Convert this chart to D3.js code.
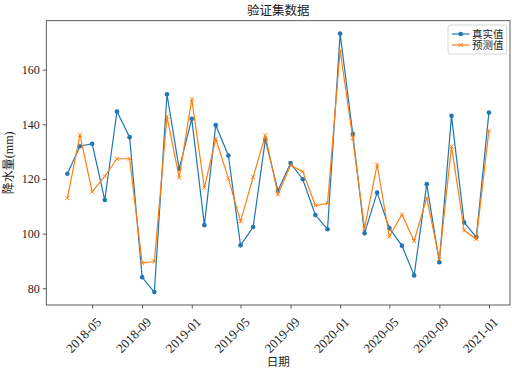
<!DOCTYPE html>
<meta charset="utf-8">
<body style="margin:0;background:white;">
<svg width="512" height="370"></svg>
<script src="https://cdn.jsdelivr.net/npm/d3@7"></script>
<script>

// monthly precipitation, validation set
var months = ["2018-03","2018-04","2018-05","2018-06","2018-07","2018-08","2018-09","2018-10","2018-11","2018-12",
              "2019-01","2019-02","2019-03","2019-04","2019-05","2019-06","2019-07","2019-08","2019-09","2019-10",
              "2019-11","2019-12","2020-01","2020-02","2020-03","2020-04","2020-05","2020-06","2020-07","2020-08",
              "2020-09","2020-10","2020-11","2020-12","2021-01"];

var realValues = [121.9, 132.0, 132.9, 112.3, 144.7, 135.3, 84.0, 78.6, 151.0, 123.7,
                  142.0, 103.1, 139.7, 128.6, 95.7, 102.4, 134.4, 115.7, 125.8, 119.9,
                  106.8, 101.6, 173.2, 136.5, 100.1, 115.0, 102.0, 95.6, 84.7, 118.1,
                  89.5, 143.1, 104.1, 98.7, 144.3];

var predValues = [113.0, 136.1, 115.3, 121.0, 127.4, 127.4, 89.2, 89.8, 142.9, 120.5,
                  149.2, 116.8, 134.7, 120.2, 104.5, 120.7, 136.0, 114.3, 125.0, 122.7,
                  110.3, 111.1, 167.0, 134.9, 101.9, 125.3, 98.9, 107.0, 97.3, 113.2,
                  90.6, 131.9, 101.2, 98.0, 137.7];

var yTicks = [80, 100, 120, 140, 160];

var seriesNames = ["真实值", "预测值"];
var colors = ["#1f77b4", "#ff7f0e"];

var latin = '"Liberation Serif", "Times New Roman", "Noto Sans CJK SC", serif';
var cjk = '"Liberation Serif", "Noto Sans CJK SC", serif';

var svg = d3.select("svg");
var plotLeft = 46.3, plotRight = 510, plotTop = 20.7, plotBottom = 305;

var parse = d3.timeParse("%Y-%m");
var dates = months.map(parse);

// 5% padding like matplotlib autoscale
var xExt = d3.extent(dates);
var xPad = (xExt[1] - xExt[0]) * 0.05;
var x = d3.scaleTime()
          .domain([new Date(+xExt[0] - xPad), new Date(+xExt[1] + xPad)])
          .range([plotLeft, plotRight]);

var allVals = realValues.concat(predValues);
var yExt = d3.extent(allVals);
var yPad = (yExt[1] - yExt[0]) * 0.05;
var y = d3.scaleLinear()
          .domain([yExt[0] - yPad, yExt[1] + yPad])
          .range([plotBottom, plotTop]);

// axes
var xAxis = svg.append('g')
               .attr('transform', 'translate(0,' + plotBottom + ')')
               .call(d3.axisBottom(x).ticks(d3.timeMonth.every(4)).tickFormat(d3.timeFormat("%Y-%m")).tickSizeOuter(0).tickSize(3.5));
xAxis.select('.domain').remove();
xAxis.selectAll('line').attr('stroke', '#333').attr('stroke-width', 0.8);
xAxis.selectAll('text')
     .attr('font-family', latin)
     .attr('font-size', 13)
     .attr('fill', '#222')
     .attr('text-anchor', 'end')
     .attr('x', 0).attr('y', 0).attr('dy', 0)
     .attr('transform', 'translate(9.5,18) rotate(-45)');

var yAxis = svg.append('g')
               .attr('transform', 'translate(' + plotLeft + ',0)')
               .call(d3.axisLeft(y).tickValues(yTicks).tickSizeOuter(0).tickSize(3.5).tickPadding(3));
yAxis.select('.domain').remove();
yAxis.selectAll('line').attr('stroke', '#333').attr('stroke-width', 0.8);
yAxis.selectAll('text')
     .attr('font-family', latin)
     .attr('font-size', 12)
     .attr('fill', '#222');

// frame
svg.append('rect')
   .attr('x', plotLeft).attr('y', plotTop)
   .attr('width', plotRight - plotLeft).attr('height', plotBottom - plotTop)
   .attr('fill', 'none')
   .attr('stroke', '#333')
   .attr('stroke-width', 0.8);

// lines
var series = [realValues, predValues];
var line = d3.line()
             .x(function(d, i) { return x(dates[i]); })
             .y(function(d) { return y(d); });

series.forEach(function(vals, s) {
	svg.append('path')
	   .datum(vals)
	   .attr('d', line)
	   .attr('fill', 'none')
	   .attr('stroke', colors[s])
	   .attr('stroke-width', 1.2);

	if (s == 0) {
		svg.append('g').selectAll('circle')
		   .data(vals).enter().append('circle')
		   .attr('cx', function(d, i) { return x(dates[i]); })
		   .attr('cy', function(d) { return y(d); })
		   .attr('r', 2.3)
		   .attr('fill', colors[s]);
	} else {
		svg.append('g').selectAll('path')
		   .data(vals).enter().append('path')
		   .attr('d', 'M-2,-2L2,2M-2,2L2,-2')
		   .attr('transform', function(d, i) { return 'translate(' + x(dates[i]) + ',' + y(d) + ')'; })
		   .attr('stroke', colors[s])
		   .attr('stroke-width', 1);
	}
});

// title and axis labels
svg.append('text')
   .attr('x', (plotLeft + plotRight) / 2).attr('y', 15)
   .attr('text-anchor', 'middle')
   .attr('font-family', cjk)
   .attr('font-size', 12.5)
   .attr('fill', '#222')
   .text('验证集数据');

svg.append('text')
   .attr('x', (plotLeft + plotRight) / 2).attr('y', 366)
   .attr('text-anchor', 'middle')
   .attr('font-family', cjk)
   .attr('font-size', 11.5)
   .attr('fill', '#222')
   .text('日期');

svg.append('text')
   .attr('transform', 'translate(13,' + ((plotTop + plotBottom) / 2) + ') rotate(-90)')
   .attr('text-anchor', 'middle')
   .attr('font-family', cjk)
   .attr('font-size', 12)
   .attr('fill', '#222')
   .text('降水量(mm)');

// legend
var legend = svg.append('g').attr('transform', 'translate(448,25)');
legend.append('rect')
      .attr('width', 58.7).attr('height', 29)
      .attr('rx', 2)
      .attr('fill', 'white')
      .attr('fill-opacity', 0.8)
      .attr('stroke', '#ccc')
      .attr('stroke-width', 0.8);

seriesNames.forEach(function(name, s) {
	var row = legend.append('g').attr('transform', 'translate(0,' + (9 + s * 11) + ')');
	row.append('line')
	   .attr('x1', 4).attr('x2', 21.5)
	   .attr('stroke', colors[s]).attr('stroke-width', 1.2);
	if (s == 0) {
		row.append('circle').attr('cx', 12.7).attr('r', 2.3).attr('fill', colors[s]);
	} else {
		row.append('path').attr('d', 'M10.7,-2L14.7,2M10.7,2L14.7,-2')
		   .attr('stroke', colors[s]).attr('stroke-width', 1);
	}
	row.append('text')
	   .attr('x', 24).attr('y', 4)
	   .attr('font-family', cjk)
	   .attr('font-size', 10.5)
	   .attr('fill', '#222')
	   .text(name);
});

</script>
</body>
